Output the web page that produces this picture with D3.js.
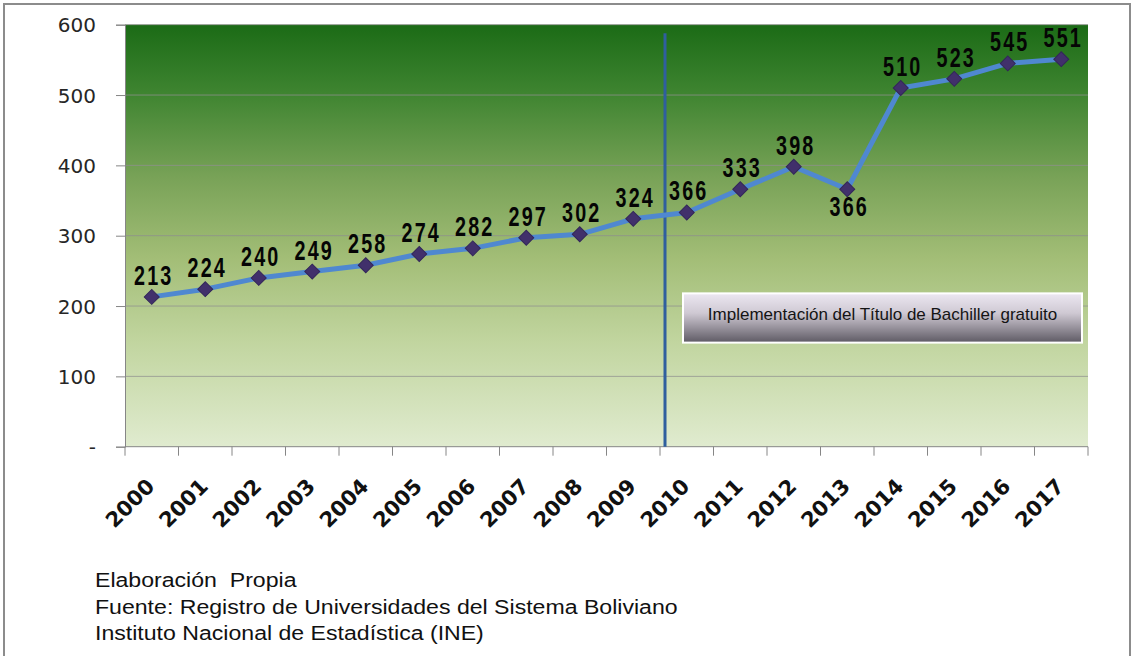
<!DOCTYPE html>
<html>
<head>
    <meta charset="utf-8">
    <title>Bachilleres</title>
    <script src="https://d3js.org/d3.v7.min.js"></script>
    <style>
        body { margin: 0; background: #fff; }
        .ytick { font-family: "DejaVu Sans", Verdana, sans-serif; font-size: 20px; fill: #262626; }
        .xtick { font-family: "DejaVu Sans", Verdana, sans-serif; font-size: 21px; font-weight: bold; fill: #111; }
        .vlabel { font-family: "Liberation Sans", Arial, sans-serif; font-size: 23px; font-weight: bold; fill: #050505; letter-spacing: 2.5px; }
        .note { font-family: "Liberation Sans", Arial, sans-serif; font-size: 21px; fill: #111; white-space: pre; }
        .annot { font-family: "Liberation Sans", Arial, sans-serif; font-size: 17px; fill: #141414; }
    </style>
</head>
<body>
<script>
    var years = ["2000", "2001", "2002", "2003", "2004", "2005", "2006", "2007", "2008",
        "2009", "2010", "2011", "2012", "2013", "2014", "2015", "2016", "2017"];
    var values = [213, 224, 240, 249, 258, 274, 282, 297, 302, 324, 333, 366, 398, 366, 510, 523, 545, 551];
    // labels as printed in the source (2010 / 2011 appear swapped there)
    var labels = ["213", "224", "240", "249", "258", "274", "282", "297", "302",
        "324", "366", "333", "398", "366", "510", "523", "545", "551"];
    var yTicks = [0, 100, 200, 300, 400, 500, 600];
    var yTickLabels = ["-", "100", "200", "300", "400", "500", "600"];
    var markerYear = "2010";
    var annotation = "Implementación del Título de Bachiller gratuito";
    var notes = ["Elaboración  Propia",
        "Fuente: Registro de Universidades del Sistema Boliviano",
        "Instituto Nacional de Estadística (INE)"];

    var w = 1135, h = 656;
    var plotL = 125, plotR = 1088, plotT = 24.7, plotB = 446.7;

    var svg = d3.select("body").append("svg")
        .attr("width", w)
        .attr("height", h);

    var defs = svg.append("defs");
    var bg = defs.append("linearGradient").attr("id", "bg")
        .attr("x1", 0).attr("y1", 0).attr("x2", 0).attr("y2", 1);
    [[0, "#1b6b16"], [0.16, "#3e8430"], [0.36, "#78a257"], [0.55, "#a2bd76"],
        [0.75, "#c1d59f"], [1, "#e0ebcf"]].forEach(function (s) {
        bg.append("stop").attr("offset", s[0]).attr("stop-color", s[1]);
    });
    var box = defs.append("linearGradient").attr("id", "box")
        .attr("x1", 0).attr("y1", 0).attr("x2", 0).attr("y2", 1);
    [[0, "#ece7f1"], [0.4, "#cfc9d3"], [1, "#5e5a64"]].forEach(function (s) {
        box.append("stop").attr("offset", s[0]).attr("stop-color", s[1]);
    });

    // outer frame
    svg.append("rect")
        .attr("x", 4).attr("y", 4)
        .attr("width", 1126).attr("height", 700)
        .attr("fill", "none")
        .attr("stroke", "#8c8c8c")
        .attr("stroke-width", 2);

    var x = d3.scaleBand().domain(years).range([plotL, plotR]);
    var y = d3.scaleLinear().domain([0, 600]).range([plotB, plotT]);

    svg.append("rect")
        .attr("x", plotL).attr("y", plotT)
        .attr("width", plotR - plotL).attr("height", plotB - plotT)
        .attr("fill", "url(#bg)");

    // gridlines
    svg.selectAll(".grid")
        .data(yTicks.slice(1))
        .enter().append("line")
        .attr("x1", plotL).attr("x2", plotR)
        .attr("y1", function (d) { return y(d); })
        .attr("y2", function (d) { return y(d); })
        .attr("stroke", "#8f8f8f")
        .attr("stroke-opacity", 0.75)
        .attr("stroke-width", 1);

    // y axis
    var yAxis = svg.append("g")
        .attr("transform", "translate(" + plotL + ",0)")
        .call(d3.axisLeft(y).tickValues(yTicks).tickSize(9)
            .tickFormat(function (d, i) { return yTickLabels[i]; }));
    yAxis.select(".domain").attr("stroke", "#868686");
    yAxis.selectAll(".tick line").attr("stroke", "#868686");
    yAxis.selectAll(".tick text")
        .attr("class", "ytick")
        .attr("x", -29)
        .attr("dy", "0.36em");

    // x axis with ticks at band edges
    var xg = svg.append("g");
    xg.append("line")
        .attr("x1", plotL).attr("x2", plotR)
        .attr("y1", plotB).attr("y2", plotB)
        .attr("stroke", "#868686");
    var edges = years.map(function (d) { return x(d); }).concat([plotR]);
    xg.selectAll(".xt")
        .data(edges)
        .enter().append("line")
        .attr("x1", function (d) { return d; })
        .attr("x2", function (d) { return d; })
        .attr("y1", plotB).attr("y2", plotB + 9)
        .attr("stroke", "#868686");
    xg.selectAll(".xtick")
        .data(years)
        .enter().append("text")
        .attr("class", "xtick")
        .attr("text-anchor", "end")
        .attr("transform", function (d) {
            return "translate(" + (x(d) + x.bandwidth() / 2 + 4) + "," + (plotB + 41) + ") rotate(-45)";
        })
        .text(function (d) { return d; });

    // vertical marker line
    var vx = x(markerYear) + 5;
    svg.append("line")
        .attr("x1", vx).attr("x2", vx)
        .attr("y1", y(588)).attr("y2", plotB)
        .attr("stroke", "#2f5f9e")
        .attr("stroke-width", 3);

    // annotation box
    var bx0 = x(markerYear) + 23, bx1 = x("2017") + x.bandwidth() - 6;
    var by0 = y(218), by1 = y(148);
    svg.append("rect")
        .attr("x", bx0).attr("y", by0)
        .attr("width", bx1 - bx0).attr("height", by1 - by0)
        .attr("fill", "url(#box)")
        .attr("stroke", "#fff")
        .attr("stroke-width", 2);
    svg.append("text")
        .attr("class", "annot")
        .attr("x", (bx0 + bx1) / 2)
        .attr("y", by0 + 27)
        .attr("text-anchor", "middle")
        .text(annotation);

    // line + markers
    var cx = function (i) { return x(years[i]) + x.bandwidth() / 2; };
    var line = d3.line()
        .x(function (d, i) { return cx(i); })
        .y(function (d) { return y(d); });

    svg.append("path")
        .datum(values)
        .attr("d", line)
        .attr("fill", "none")
        .attr("stroke", "#4f88d0")
        .attr("stroke-width", 5)
        .attr("stroke-linejoin", "round");

    svg.selectAll(".pt")
        .data(values)
        .enter().append("path")
        .attr("d", d3.symbol().type(d3.symbolSquare).size(112))
        .attr("transform", function (d, i) {
            return "translate(" + cx(i) + "," + y(d) + ") rotate(45)";
        })
        .attr("fill", "#41306b")
        .attr("stroke", "#33265a")
        .attr("stroke-width", 1);

    // value labels (tall condensed), below the point at a local dip
    svg.selectAll(".vlabel")
        .data(values)
        .enter().append("text")
        .attr("class", "vlabel")
        .attr("text-anchor", "middle")
        .attr("transform", function (d, i) {
            var dip = i > 0 && i < values.length - 1 && d < values[i - 1] && d < values[i + 1];
            var ty = dip ? y(d) + 27 : y(d) - 12;
            return "translate(" + (cx(i) + 2) + "," + ty + ") scale(0.86,1.18)";
        })
        .text(function (d, i) { return labels[i]; });

    // notes (source text is slightly wider than the font)
    svg.selectAll(".note")
        .data(notes)
        .enter().append("text")
        .attr("class", "note")
        .attr("transform", function (d, i) {
            return "translate(95," + (587 + i * 26.5) + ") scale(1.1,1)";
        })
        .text(function (d) { return d; });
</script>
</body>
</html>
